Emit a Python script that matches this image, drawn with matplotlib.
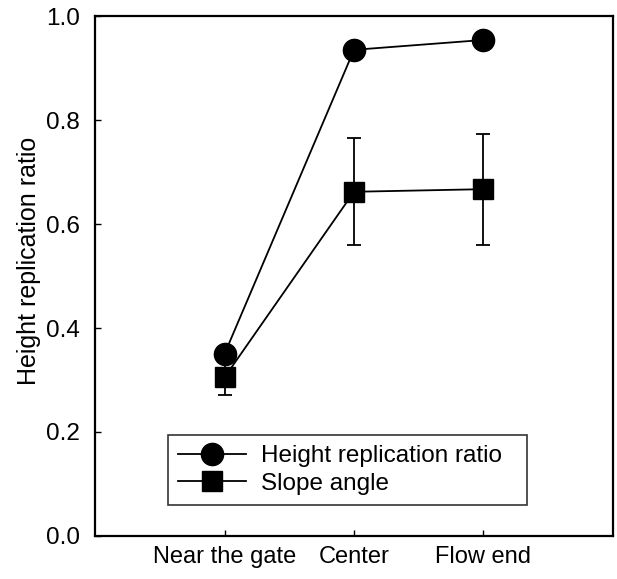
import matplotlib
matplotlib.use("Agg")
import matplotlib.pyplot as plt

plt.rcParams["font.family"] = ["Liberation Sans", "DejaVu Sans"]

# data
sites = ["Near the gate", "Center", "Flow end"]
height_ratio = [0.350, 0.935, 0.954]
slope_angle = [0.305, 0.662, 0.667]
slope_err = [0.033, 0.103, 0.107]

fig = plt.figure(figsize=(6.17, 5.79), dpi=100)
ax = fig.add_axes([0.154, 0.0743, 0.8395, 0.898])

x = [1, 2, 3]
ax.errorbar(x, slope_angle, yerr=slope_err, fmt="none", ecolor="k",
            elinewidth=1.3, capsize=5, capthick=1.3, zorder=1)
ax.plot(x, height_ratio, "o-", color="k", ms=16, lw=1.3,
        label="Height replication ratio", zorder=3)
ax.plot(x, slope_angle, "s-", color="k", ms=14, lw=1.3,
        label="Slope angle", zorder=2)

ax.set_xlim(0, 4)
ax.set_ylim(0, 1.0)
ax.set_xticks(x)
ax.set_xticklabels(sites, fontsize=17)
ax.set_yticks([0.0, 0.2, 0.4, 0.6, 0.8, 1.0])
ax.set_yticklabels(["0.0", "0.2", "0.4", "0.6", "0.8", "1.0"], fontsize=17.5)
ax.tick_params(axis="y", direction="in", length=4, width=1, pad=11)
ax.tick_params(axis="x", direction="in", length=4, width=1, pad=7)
for s in ax.spines.values():
    s.set_linewidth(1.6)
ax.set_ylabel("Height replication ratio", fontsize=18)
ax.yaxis.set_label_coords(-0.105, 0.53)

leg = ax.legend(loc="lower left", bbox_to_anchor=(0.141, 0.06, 0.693, 0.14),
                mode="expand", fontsize=17.5, frameon=True, fancybox=False,
                borderaxespad=0, handlelength=2.8, handletextpad=0.6,
                labelspacing=0.22, borderpad=0.42)
leg.get_frame().set_edgecolor("k")
leg.get_frame().set_linewidth(1.2)

fig.savefig("out.png", dpi=100)
